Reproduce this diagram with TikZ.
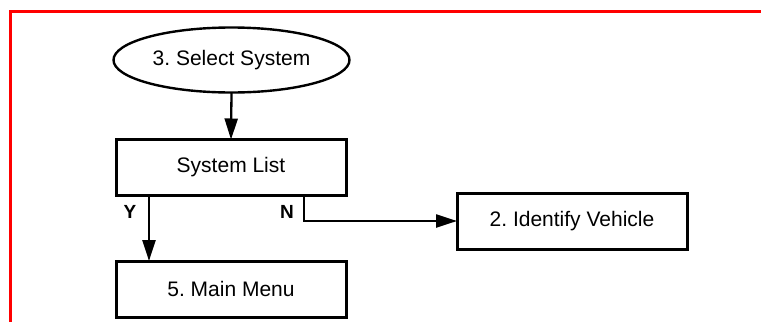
\documentclass[tikz,border=0pt]{standalone}
\usepackage{fontspec}
\setmainfont{Liberation Sans}
\usetikzlibrary{shapes.geometric,arrows.meta}
\frenchspacing
\begin{document}
\begin{tikzpicture}[x=1pt,y=-1pt,
  txt/.style={font=\fontsize{21}{25}\selectfont\frenchspacing, inner sep=0pt, outer sep=0pt},
  procbox/.style={txt, draw=black, line width=3pt, minimum width=230pt, minimum height=56pt},
  termin/.style={txt, ellipse, draw=black, line width=2.4pt, minimum width=236pt, minimum height=65pt},
  arr/.style={line width=2.3pt, -{Triangle[length=21pt,width=13pt]}},
  yn/.style={font=\fontsize{19}{22}\selectfont\bfseries, inner sep=0pt}]
\useasboundingbox (0,0) rectangle (761,322);
\draw[red, line width=3pt] (761,11) -- (10,11) -- (10,322);
\node[termin] (sel) at (231.5,60) {3. Select System};
\node[procbox] (sys) at (231,167.5) {System List};
\node[procbox] (main) at (231,289) {5. Main Menu};
\node[procbox] (ident) at (572,221) {2. Identify Vehicle};
\draw[arr] (sel.south) -- (sys.north);
\draw[arr] ([xshift=33pt]sys.south west) -- ([xshift=33pt]main.north west);
\draw[arr] ([xshift=-42pt]sys.south east) |- (ident.west);
\node[yn] (ylab) at (130,212) {Y};
\node[yn] (nlab) at (287,212) {N};
\end{tikzpicture}
\end{document}
